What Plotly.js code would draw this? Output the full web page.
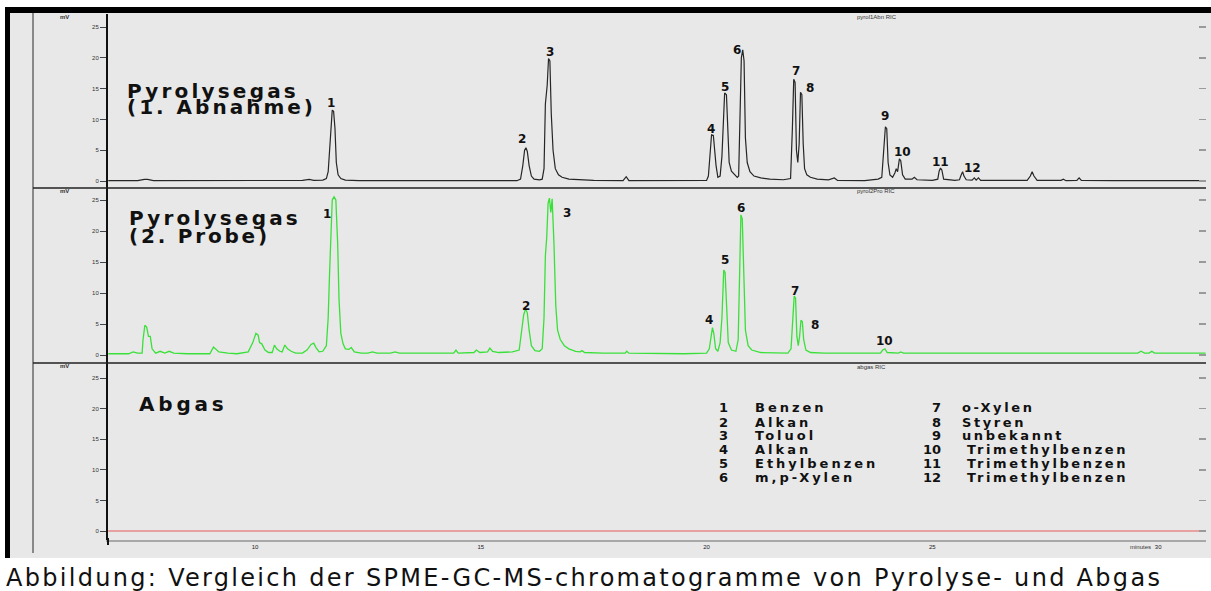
<!DOCTYPE html>
<html><head><meta charset="utf-8">
<script src="https://cdn.plot.ly/plotly-3.0.1.min.js"></script>
<style>html,body{margin:0;padding:0;background:#fff;overflow:hidden}</style>
</head><body>
<div id="chart" style="width:1211px;height:591px"></div>
<script>
// ---- data (retention time in minutes, signal in mV) ----
const xTickVals = [10, 15, 20, 25, 30];
const xTickText = ['10', '15', '20', '25', '30'];
const yTickVals = [0, 5, 10, 15, 20, 25];

// Pyrolysegas (1. Abnahme) : [time, mV]
const pyrolyse1 = [
 [6.75,0.05],[7.4,0.05],[7.55,0.25],[7.62,0.25],[7.75,0.05],[9.0,0.05],[10.2,0.05],[11.05,0.1],[11.2,0.25],[11.3,0.1],[11.5,0.15],
 [11.58,0.4],[11.62,1.5],[11.65,5.0],[11.68,9.5],[11.71,11.5],[11.74,11.3],[11.77,8.6],[11.8,3.0],[11.84,1.0],[11.9,0.4],[12.0,0.15],[12.3,0.05],
 [13.5,0.05],[15.0,0.05],[15.8,0.05],
 [15.88,0.3],[15.93,2.5],[15.97,5.0],[16.0,5.4],[16.03,4.8],[16.07,2.5],[16.12,0.8],[16.18,0.3],[16.3,0.2],
 [16.36,0.3],[16.4,2.0],[16.43,12.5],[16.47,15.5],[16.5,19.9],[16.53,19.5],[16.56,11.0],[16.6,5.0],[16.65,2.0],[16.72,1.0],[16.8,0.6],[16.95,0.3],[17.2,0.2],[17.5,0.1],
 [18.15,0.05],[18.22,0.7],[18.28,0.05],[19.0,0.05],[19.3,0.15],[19.5,0.05],[20.0,0.1],
 [20.04,0.8],[20.08,4.5],[20.11,7.5],[20.15,7.4],[20.18,4.0],[20.21,2.5],[20.25,0.6],
 [20.3,0.8],[20.34,4.0],[20.37,9.5],[20.4,14.3],[20.44,14.0],[20.47,9.0],[20.5,3.0],[20.55,1.6],[20.62,1.0],[20.68,0.6],
 [20.71,0.8],[20.74,12.0],[20.77,20.0],[20.8,21.3],[20.83,19.5],[20.86,7.0],[20.9,3.0],[20.96,1.5],[21.05,0.8],[21.2,0.5],[21.4,0.3],[21.7,0.2],
 [21.86,0.4],[21.9,8.5],[21.93,16.5],[21.96,16.0],[21.99,5.0],[22.02,3.0],
 [22.05,6.0],[22.08,14.4],[22.11,14.0],[22.14,6.0],[22.17,2.0],[22.22,1.0],[22.3,0.6],[22.45,0.3],[22.7,0.2],[22.83,0.5],[22.9,0.1],[23.5,0.05],[23.8,0.3],
 [23.88,0.6],[23.92,5.0],[23.96,8.8],[23.99,8.5],[24.02,3.0],[24.06,1.0],[24.12,0.6],
 [24.17,1.3],[24.2,2.0],[24.23,1.5],[24.27,3.6],[24.3,3.3],[24.34,1.0],[24.4,0.3],[24.55,0.3],[24.6,0.6],[24.66,0.2],[25.0,0.1],[25.12,0.3],
 [25.15,1.6],[25.18,2.1],[25.21,1.8],[25.25,0.3],[25.5,0.1],[25.6,0.2],
 [25.64,1.0],[25.67,1.5],[25.7,0.8],[25.75,0.2],[25.88,0.15],[25.93,0.5],[25.97,0.15],[26.02,0.5],[26.07,0.1],[26.5,0.05],
 [27.1,0.1],[27.17,0.8],[27.21,1.5],[27.25,0.8],[27.32,0.1],[27.85,0.1],[27.9,0.3],[27.96,0.05],[28.2,0.1],[28.25,0.5],[28.3,0.1],[29.0,0.05],[31.05,0.05]
];

// Pyrolysegas (2. Probe) : [time, mV]
const pyrolyse2 = [
 [6.75,0.2],[7.2,0.2],[7.3,0.5],[7.4,0.3],[7.5,0.3],[7.52,2.5],[7.56,4.8],[7.6,4.5],[7.64,3.0],[7.68,3.0],[7.72,1.0],[7.8,0.3],[7.9,0.6],[8.0,0.3],[8.1,0.6],[8.2,0.3],[8.5,0.2],
 [9.0,0.2],[9.08,1.3],[9.14,0.9],[9.2,0.5],[9.4,0.3],[9.6,0.2],[9.85,0.5],[9.95,2.0],[10.02,3.5],[10.07,3.2],[10.1,2.0],[10.15,1.8],[10.22,0.8],[10.3,0.4],
 [10.38,0.4],[10.43,1.6],[10.48,1.0],[10.55,0.6],[10.6,0.5],[10.66,1.6],[10.72,1.0],[10.8,0.6],[10.9,0.3],[11.05,0.3],[11.15,0.8],[11.24,1.7],[11.3,1.9],[11.35,1.2],[11.42,0.5],
 [11.5,0.6],[11.58,1.5],[11.62,6.0],[11.65,13.0],[11.68,20.0],[11.71,25.0],[11.75,25.5],[11.79,25.0],[11.83,18.0],[11.86,9.0],[11.9,3.5],[11.95,1.8],[12.0,1.0],[12.08,0.9],[12.13,1.2],[12.2,0.5],
 [12.35,0.3],[12.5,0.3],[12.6,0.5],[12.7,0.3],[13.0,0.3],[13.1,0.5],[13.2,0.3],[14.0,0.3],[14.4,0.3],[14.45,0.8],[14.5,0.3],[14.85,0.4],[14.9,0.8],[14.98,0.4],[15.15,0.5],[15.2,1.1],[15.26,0.6],[15.4,0.4],
 [15.7,0.5],[15.85,0.8],[15.9,3.5],[15.95,6.5],[15.99,7.4],[16.03,6.8],[16.07,4.0],[16.12,1.5],[16.2,0.7],[16.3,0.6],
 [16.36,1.0],[16.4,6.0],[16.43,16.0],[16.46,19.0],[16.49,24.5],[16.52,25.3],[16.55,23.0],[16.58,25.2],[16.62,18.0],[16.66,8.0],[16.7,4.0],[16.76,2.5],[16.85,1.5],[16.95,1.0],[17.1,0.6],
 [17.2,0.5],[17.24,0.7],[17.3,0.4],[17.7,0.3],[18.2,0.3],[18.23,0.6],[18.28,0.3],[19.5,0.2],[20.0,0.3],
 [20.06,1.0],[20.1,3.5],[20.13,4.4],[20.16,3.5],[20.2,1.0],[20.25,0.6],[20.3,2.0],[20.34,6.0],[20.38,13.7],[20.41,13.3],[20.44,7.0],[20.48,2.0],[20.55,0.8],[20.65,0.6],
 [20.7,2.5],[20.73,12.0],[20.76,22.6],[20.79,22.0],[20.82,12.0],[20.86,4.0],[20.92,1.5],[21.0,0.8],[21.2,0.4],[21.5,0.3],[21.8,0.3],
 [21.87,1.0],[21.91,6.0],[21.94,9.5],[21.97,9.2],[22.0,3.0],[22.03,1.5],[22.06,3.0],[22.09,5.6],[22.12,5.4],[22.15,2.5],[22.2,0.8],[22.3,0.4],[22.6,0.3],
 [23.5,0.3],[23.85,0.3],[23.9,0.8],[23.95,1.0],[24.0,0.4],[24.25,0.3],[24.3,0.5],[24.36,0.3],[25.0,0.3],[29.55,0.3],[29.62,0.6],[29.7,0.3],[29.8,0.3],[29.86,0.6],[29.92,0.3],[31.05,0.3]
];

// Abgas : [time, mV]
const abgas = [[6.75,0],[12,0],[18,0],[24,0],[31.05,0]];

const sampleNames = ['Pyrolysegas', '(1. Abnahme)', 'Pyrolysegas', '(2. Probe)', 'Abgas'];
const peakNumbers = ['1','2','3','4','5','6','7','8','9','10','11','12'];
const compounds = ['Benzen','Alkan','Toluol','Alkan','Ethylbenzen','m,p-Xylen',
                   'o-Xylen','Styren','unbekannt','Trimethylbenzen','Trimethylbenzen','Trimethylbenzen'];
const caption = 'Abbildung: Vergleich der SPME-GC-MS-chromatogramme von Pyrolyse- und Abgas';

// ---- geometry helpers (pixel -> paper) ----
const L = 108, R = 1206, T = 14, B = 540;
const px = x => (x - L) / (R - L);
const py = y => (B - y) / (B - T);

const traces = [
  {x: pyrolyse1.map(p => p[0]), y: pyrolyse1.map(p => p[1]), xaxis: 'x', yaxis: 'y3',
   mode: 'lines', line: {color: '#262626', width: 1.2}, hoverinfo: 'skip'},
  {x: pyrolyse2.map(p => p[0]), y: pyrolyse2.map(p => p[1]), xaxis: 'x', yaxis: 'y2',
   mode: 'lines', line: {color: '#3ae03a', width: 1.3}, hoverinfo: 'skip'},
  {x: abgas.map(p => p[0]), y: abgas.map(p => p[1]), xaxis: 'x', yaxis: 'y',
   mode: 'lines', line: {color: '#e88a8a', width: 1.3}, hoverinfo: 'skip'},
  // empty traces so that the right-hand tick axes are drawn
  {x: [], y: [], xaxis: 'x', yaxis: 'y4', mode: 'lines', hoverinfo: 'skip'},
  {x: [], y: [], xaxis: 'x', yaxis: 'y5', mode: 'lines', hoverinfo: 'skip'},
  {x: [], y: [], xaxis: 'x', yaxis: 'y6', mode: 'lines', hoverinfo: 'skip'}
];

const dom3 = [0, py(363)], dom2 = [py(363), py(188)], dom1 = [py(188), 1];
const rng1 = [-(188-181)/6.16, (181-14)/6.16];
const rng2 = [-(363-355)/6.2, (355-188)/6.2];
const rng3 = [-(540-531)/6.12, (531-363)/6.12];

function leftAx(domain, range) {
  return {domain, range, anchor: 'x', tickvals: yTickVals, ticks: 'outside', ticklen: 6,
    tickcolor: '#444', tickwidth: 1, tickfont: {size: 6, color: '#333', family: 'Liberation Sans'},
    showline: true, linecolor: '#111', linewidth: 2, showgrid: false, zeroline: false, fixedrange: true};
}
function rightAx(over, range) {
  return {overlaying: over, side: 'right', anchor: 'x', range, tickvals: yTickVals, ticks: 'inside',
    ticklen: 7, tickcolor: '#9a9a9a', tickwidth: 1.5, showticklabels: false, showline: false,
    showgrid: false, zeroline: false};
}

const BOLD = 'DejaVu Sans';
const anns = [], spacing = [];
function addAnn(text, x, y, size, anchor, ls, opts) {
  anns.push(Object.assign({text, xref: 'paper', yref: 'paper', x: px(x), y: py(y),
    xanchor: anchor, yanchor: 'middle', align: anchor === 'left' ? 'left' : 'center', showarrow: false,
    font: {family: BOLD, size, color: '#111', weight: 700}}, opts || {}));
  spacing.push(ls);
}
// sample titles
addAnn(sampleNames[0], 125, 91, 20, 'left', 3.2);
addAnn(sampleNames[1], 125, 107, 20, 'left', 3.0);
addAnn(sampleNames[2], 127, 218, 20, 'left', 3.2);
addAnn(sampleNames[3], 127, 236, 20, 'left', 2.8);
addAnn(sampleNames[4], 137, 404, 20, 'left', 3.8);
// peak numbers, panel 1
const pos1 = [[331,103],[522,139],[550,52],[711,129],[725,87],[737,50],[796,71],[810,88],[885,116],[902,152],[940,162],[972,168]];
pos1.forEach((p, i) => addAnn(peakNumbers[i], p[0], p[1], 12, 'center', 0));
// peak numbers, panel 2
const idx2 = [0,2,1,5,4,3,6,7,9];
const pos2 = [[327,214],[567,213],[526,306],[741,208],[725,260],[709,320],[795,291],[815,325],[884,341]];
pos2.forEach((p, k) => addAnn(peakNumbers[idx2[k]], p[0], p[1], 12, 'center', 0));
// legend list
const rowsY = [407, 422, 435, 449, 463, 477];
for (let i = 0; i < 6; i++) {
  addAnn(peakNumbers[i], 723, rowsY[i], 13, 'center', 0);
  addAnn(compounds[i], 753, rowsY[i], 13, 'left', 3);
}
for (let i = 6; i < 12; i++) {
  const r = i - 6;
  addAnn(peakNumbers[i], i < 9 ? 936 : 932, rowsY[r], 13, 'center', 0);
  addAnn(compounds[i], i < 9 ? 960 : 965, rowsY[r], 13, 'left', 2.6);
}
// tiny instrument texts
const tiny = {family: 'Liberation Sans', size: 6, color: '#333'};
['mV','mV','mV'].forEach((t, i) => addAnn(t, 58, [17, 191, 366][i], 6, 'left', 0, {font: Object.assign({}, tiny, {weight: 700})}));
['pyrol1Abn RIC','pyrol2Pro RIC','abgas RIC'].forEach((t, i) => addAnn(t, 855, [17, 191, 367][i], 6, 'left', 0, {font: tiny}));
addAnn('minutes', 1128, 547, 6, 'left', 0, {font: tiny});
// caption
addAnn(caption, 4, 578, 24, 'left', 2.3, {font: {family: 'DejaVu Sans', size: 24, color: '#111'}});

const shapes = [
  {type: 'rect', xref: 'paper', yref: 'paper', x0: px(0), x1: px(1211), y0: py(591), y1: py(558), fillcolor: '#ffffff', line: {width: 0}, layer: 'below'},
  {type: 'rect', xref: 'paper', yref: 'paper', x0: px(0), x1: px(1211), y0: py(7), y1: py(0), fillcolor: '#ffffff', line: {width: 0}},
  {type: 'rect', xref: 'paper', yref: 'paper', x0: px(0), x1: px(5), y0: py(591), y1: py(0), fillcolor: '#ffffff', line: {width: 0}},
  {type: 'rect', xref: 'paper', yref: 'paper', x0: px(5), x1: px(1211), y0: py(13), y1: py(7), fillcolor: '#000000', line: {width: 0}},
  {type: 'rect', xref: 'paper', yref: 'paper', x0: px(5), x1: px(10), y0: py(558), y1: py(7), fillcolor: '#000000', line: {width: 0}},
  {type: 'line', xref: 'paper', yref: 'paper', x0: px(33), x1: px(33), y0: py(553), y1: py(13), line: {color: '#6a6a6a', width: 1.5}},
  {type: 'line', xref: 'paper', yref: 'paper', x0: px(33), x1: px(1206), y0: py(188), y1: py(188), line: {color: '#222', width: 1.5}},
  {type: 'line', xref: 'paper', yref: 'paper', x0: px(33), x1: px(1206), y0: py(363), y1: py(363), line: {color: '#222', width: 1.5}},
  {type: 'line', xref: 'paper', yref: 'paper', x0: px(108), x1: px(108), y0: py(545), y1: py(538), line: {color: '#111', width: 2}}
];

const layout = {
  width: 1211, height: 591,
  margin: {l: L, r: 1211 - R, t: T, b: 591 - B, pad: 0},
  paper_bgcolor: '#e8e8e8', plot_bgcolor: '#e8e8e8',
  showlegend: false,
  font: {family: 'Liberation Sans', color: '#222'},
  xaxis: {range: [6.744, 31.06], anchor: 'y', tickvals: xTickVals, ticktext: xTickText, ticks: '',
    tickfont: {size: 6, color: '#222'}, showline: true, linecolor: '#a8a8a8', linewidth: 2,
    showgrid: false, zeroline: false, fixedrange: true},
  yaxis: leftAx(dom3, rng3),
  yaxis2: leftAx(dom2, rng2),
  yaxis3: leftAx(dom1, rng1),
  yaxis4: rightAx('y', rng3),
  yaxis5: rightAx('y2', rng2),
  yaxis6: rightAx('y3', rng1),
  annotations: anns,
  shapes: shapes
};

Plotly.newPlot('chart', traces, layout, {staticPlot: true, displayModeBar: false}).then(() => {
  document.querySelectorAll('g.annotation').forEach(g => {
    const i = +g.getAttribute('data-index');
    const ls = spacing[i];
    if (ls) g.querySelectorAll('text').forEach(t => { t.style.letterSpacing = ls + 'px'; });
  });
});
</script>
</body></html>
